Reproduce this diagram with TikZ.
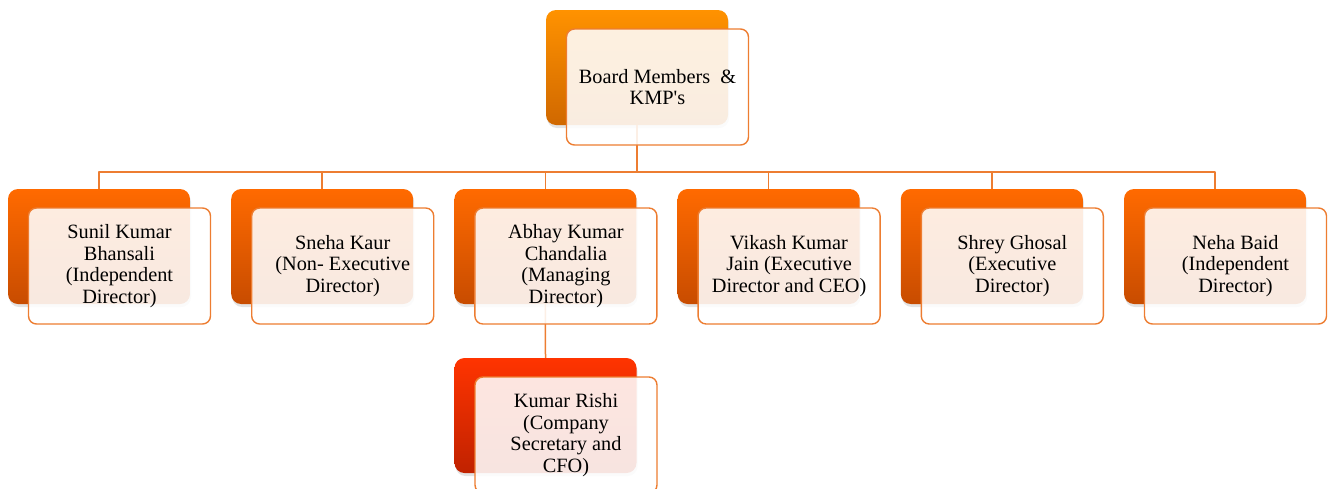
\documentclass[tikz,border=0pt]{standalone}
\usepackage{fontspec}
\setmainfont{Liberation Serif}[Ligatures=TeXOff]
\usetikzlibrary{shadows}
\definecolor{lineorange}{RGB}{237,125,49}
\definecolor{topA}{RGB}{255,146,0}
\definecolor{topB}{RGB}{208,104,0}
\definecolor{rowA}{RGB}{255,106,0}
\definecolor{rowB}{RGB}{200,76,0}
\definecolor{secA}{RGB}{255,52,0}
\definecolor{secB}{RGB}{192,34,0}
\tikzset{
	backbox/.style={rounded corners=10pt, minimum width=182pt, minimum height=115pt, inner sep=0pt,
		drop shadow={opacity=0.22, shadow xshift=1pt, shadow yshift=-3pt}},
	frontbox/.style={draw=lineorange, line width=1.4pt, rounded corners=8pt, fill=white, fill opacity=0.88,
		text opacity=1, minimum width=182pt, minimum height=116pt, inner sep=0pt, align=center,
		font=\fontsize{20.3}{21.6}\selectfont, xshift=20.5pt, yshift=-19.5pt},
	link/.style={draw=lineorange, line width=1.5pt}
}
\begin{document}
\begin{tikzpicture}[x=1pt, y=-1pt, line join=round]
		\useasboundingbox (0,0) rectangle (1333,488);
		% back boxes
		\node[backbox, top color=topA, bottom color=topB] (top) at (637,67.5) {};
		\foreach \i in {0,...,5}
			\node[backbox, top color=rowA, bottom color=rowB] (b\i) at ({99+223.2*\i},246.5) {};
		\node[backbox, top color=secA, bottom color=secB] (sec) at (545.5,415.5) {};
		% connectors
		\foreach \i in {0,...,5}
			\draw[link] (top.south) -- ++(0,47) -| (b\i.north);
		\draw[link] (b2.south) -- (sec.north);
		% front boxes
		\node[frontbox] (ftop) at (top) {Board Members \ \&\\KMP's};
		\node[frontbox] (f0) at (b0) {Sunil Kumar\\Bhansali\\(Independent\\Director)};
		\node[frontbox] (f1) at (b1) {Sneha Kaur\\(Non- Executive\\Director)};
		\node[frontbox] (f2) at (b2) {Abhay Kumar\\Chandalia\\(Managing\\Director)};
		\node[frontbox] (f3) at (b3) {Vikash Kumar\\Jain (Executive\\Director and CEO)};
		\node[frontbox] (f4) at (b4) {Shrey Ghosal\\(Executive\\Director)};
		\node[frontbox] (f5) at (b5) {Neha Baid\\(Independent\\Director)};
		\node[frontbox] (fsec) at (sec) {Kumar Rishi\\(Company\\Secretary and\\CFO)};
\end{tikzpicture}
\end{document}
